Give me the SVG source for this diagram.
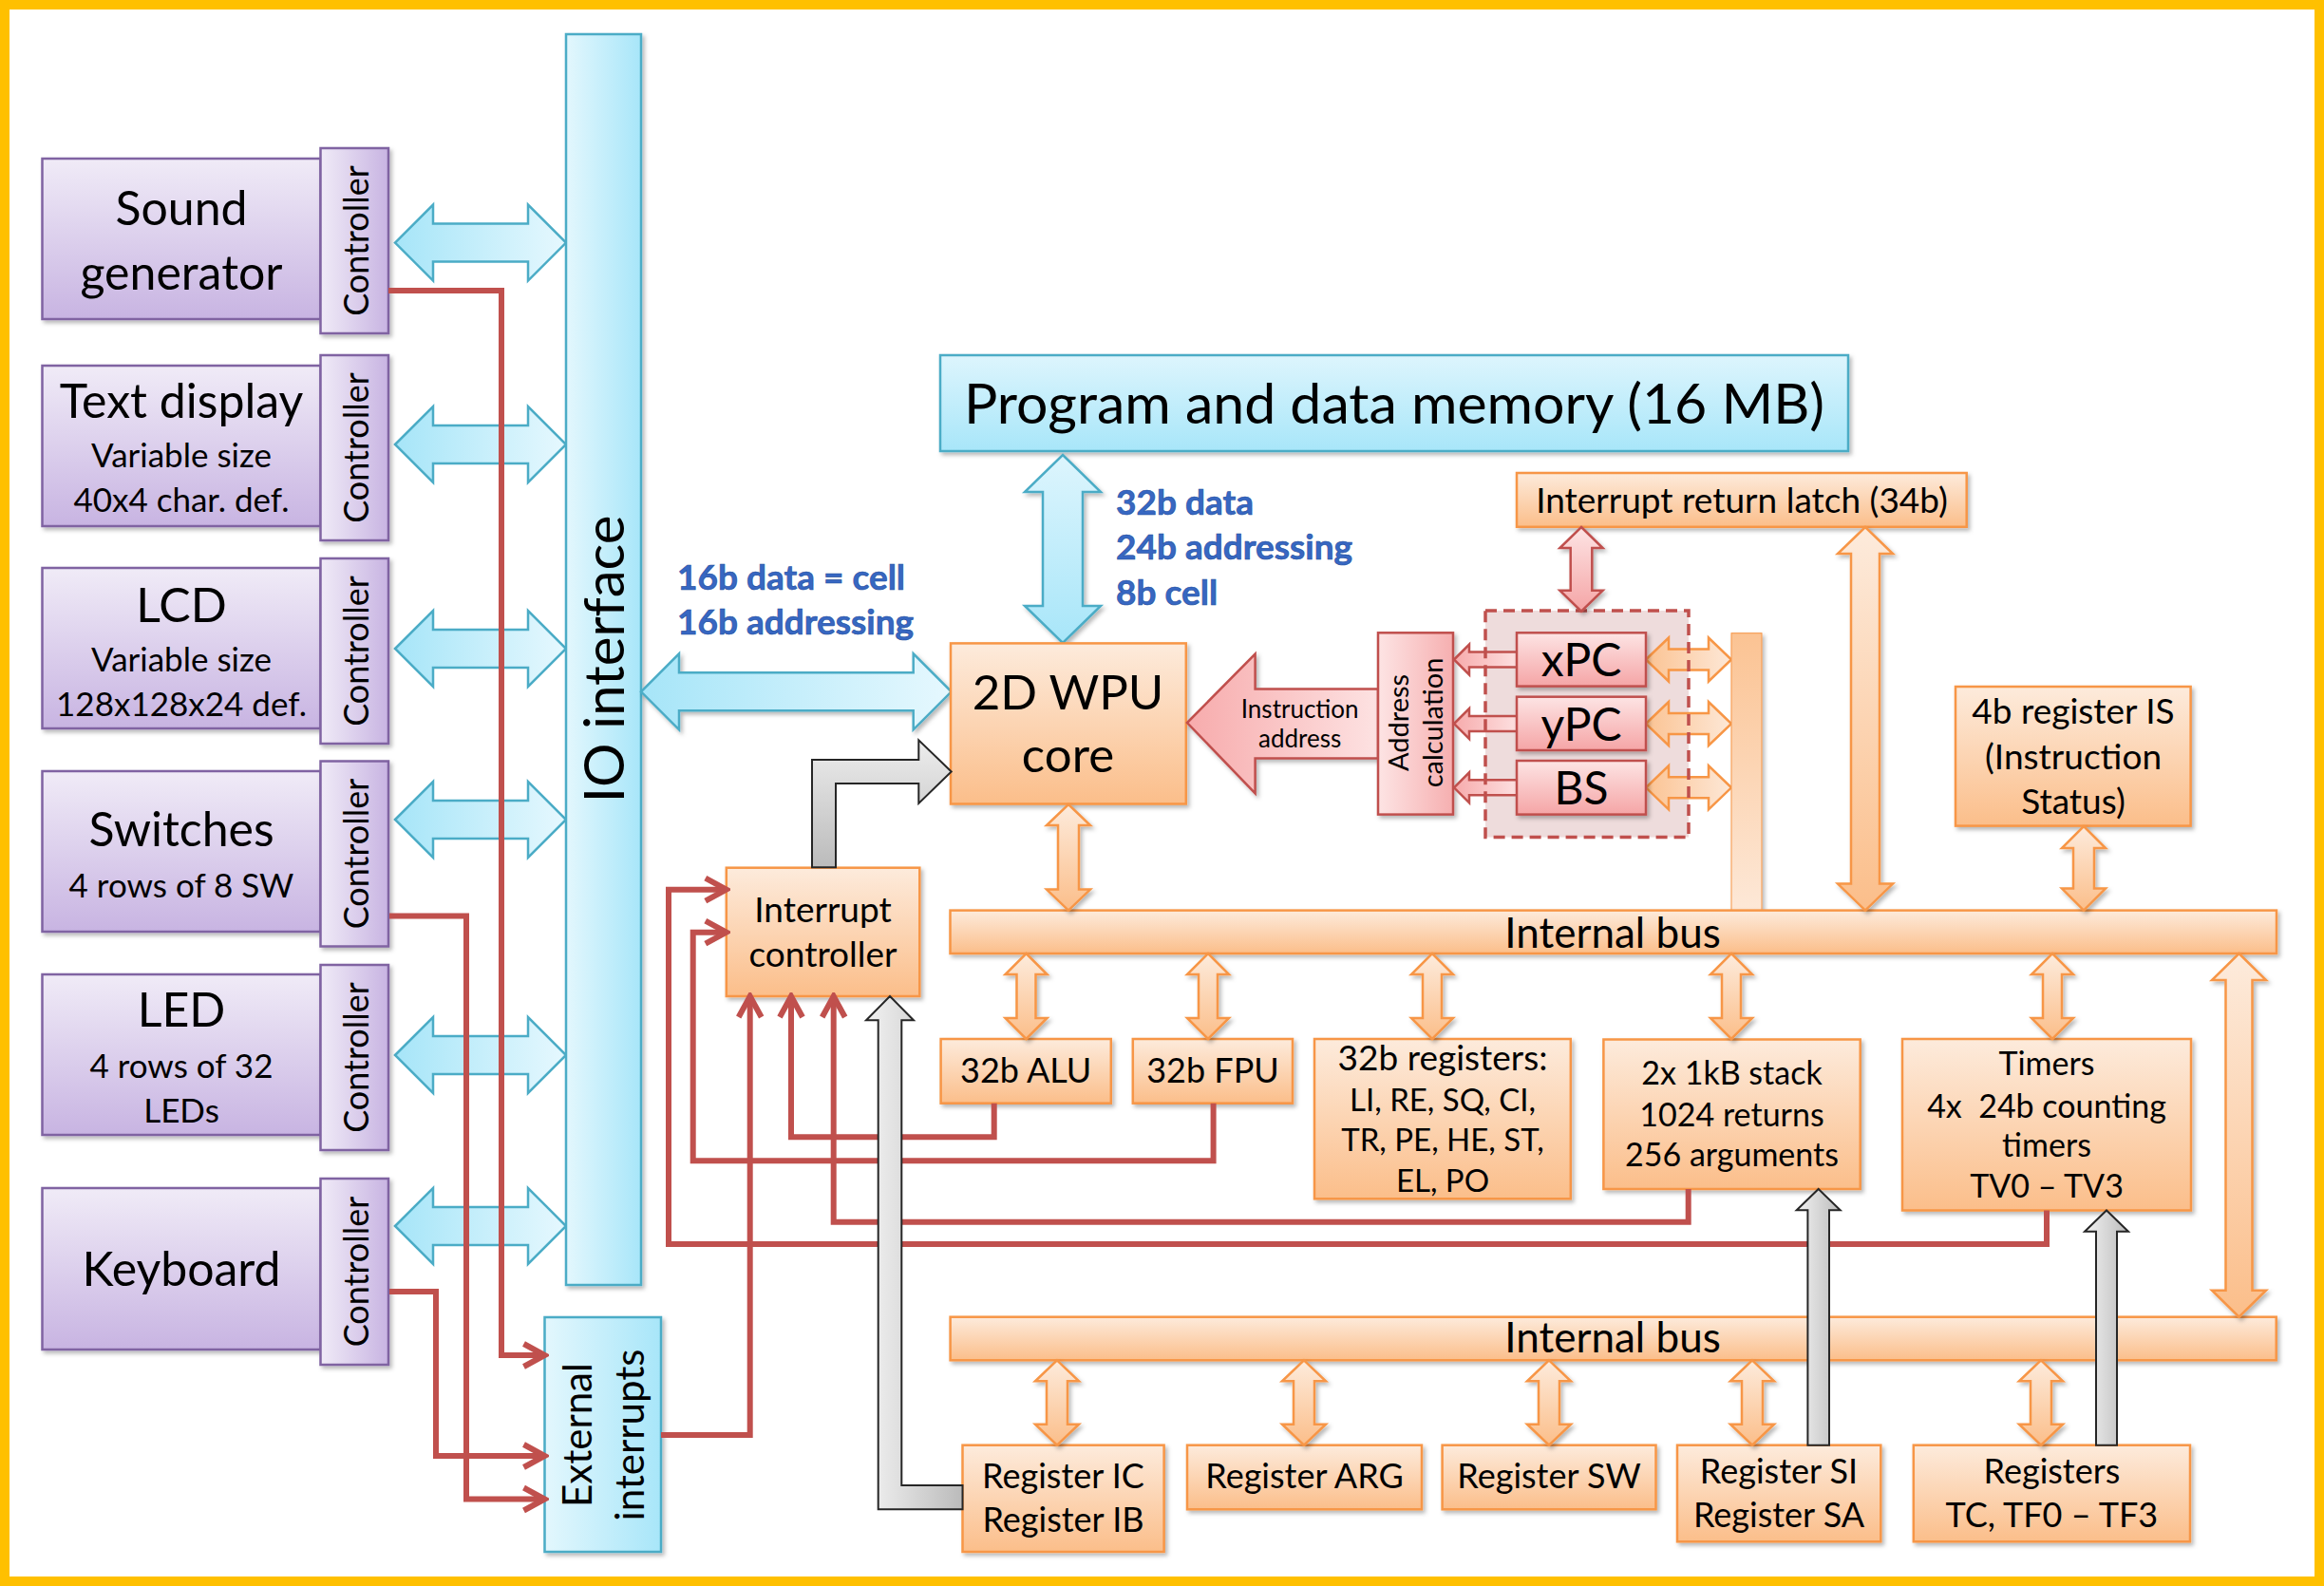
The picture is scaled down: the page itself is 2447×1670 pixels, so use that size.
<svg xmlns="http://www.w3.org/2000/svg" width="2447" height="1670" viewBox="0 0 2447 1670">
<style>
.t{font-family:Lato,"Liberation Sans",sans-serif;fill:#000;text-anchor:middle}
.b{font-family:Lato,"Liberation Sans",sans-serif;font-weight:bold;fill:#3767C2;stroke:#1F4E9C;stroke-width:0.6}
.pur{stroke:#8064A2;stroke-width:2.5}
.org{stroke:#F79646;stroke-width:2.5}
.blu{stroke:#4BACC6;stroke-width:2.5}
.pnk{stroke:#C0504D;stroke-width:2.5}
.gry{stroke:#262626;stroke-width:2}
.red{fill:none;stroke:#C0504D;stroke-width:6;marker-end:url(#ah)}
.sh{filter:url(#sh)}
</style>
<defs>
<filter id="sh" x="-10%" y="-10%" width="130%" height="130%"><feDropShadow dx="2.5" dy="3" stdDeviation="2" flood-color="#000" flood-opacity="0.28"/></filter>
<linearGradient id="gPurV" x1="0" y1="0" x2="0" y2="1"><stop offset="0" stop-color="#F0EBF7"/><stop offset="1" stop-color="#C8B4E2"/></linearGradient>
<linearGradient id="gPurH" x1="0" y1="0" x2="1" y2="0"><stop offset="0" stop-color="#F0EBF7"/><stop offset="1" stop-color="#C8B4E2"/></linearGradient>
<linearGradient id="gOrV" x1="0" y1="0" x2="0" y2="1"><stop offset="0" stop-color="#FDEBDC"/><stop offset="1" stop-color="#FBBE8A"/></linearGradient>
<linearGradient id="gOrVr" x1="0" y1="0" x2="0" y2="1"><stop offset="0" stop-color="#FBC393"/><stop offset="1" stop-color="#FDE8D7"/></linearGradient>
<linearGradient id="gOrH" x1="0" y1="0" x2="1" y2="0"><stop offset="0" stop-color="#FBC393"/><stop offset="1" stop-color="#FDE8D7"/></linearGradient>
<linearGradient id="gBluV" x1="0" y1="0" x2="0" y2="1"><stop offset="0" stop-color="#DDF5FD"/><stop offset="1" stop-color="#A8E6F9"/></linearGradient>
<linearGradient id="gBluH" x1="0" y1="0" x2="1" y2="0"><stop offset="0" stop-color="#A6E5F8"/><stop offset="1" stop-color="#E6F8FE"/></linearGradient>
<linearGradient id="gBluHb" x1="0" y1="0" x2="1" y2="0"><stop offset="0" stop-color="#E3F7FD"/><stop offset="1" stop-color="#A8E6F9"/></linearGradient>
<linearGradient id="gBluVa" x1="0" y1="0" x2="0" y2="1"><stop offset="0" stop-color="#DDF5FD"/><stop offset="1" stop-color="#A8E6F9"/></linearGradient>
<linearGradient id="gPnkV" x1="0" y1="0" x2="0" y2="1"><stop offset="0" stop-color="#FDE4E4"/><stop offset="1" stop-color="#F5A5A6"/></linearGradient>
<linearGradient id="gPnkH" x1="0" y1="0" x2="1" y2="0"><stop offset="0" stop-color="#F7ABAC"/><stop offset="1" stop-color="#FDE2E2"/></linearGradient>
<linearGradient id="gPnkHr" x1="0" y1="0" x2="1" y2="0"><stop offset="0" stop-color="#FDE4E4"/><stop offset="1" stop-color="#F6AFB0"/></linearGradient>
<linearGradient id="gGry" x1="0" y1="0" x2="1" y2="0"><stop offset="0" stop-color="#F2F2F2"/><stop offset="1" stop-color="#BBBBBB"/></linearGradient>
<linearGradient id="gGryV" x1="0" y1="0" x2="0" y2="1"><stop offset="0" stop-color="#EDEDED"/><stop offset="1" stop-color="#BBBBBB"/></linearGradient>
<marker id="ah" markerUnits="userSpaceOnUse" markerWidth="34" markerHeight="34" viewBox="0 0 34 34" refX="30" refY="17" orient="auto"><path d="M8,5 L30,17 L8,29" fill="none" stroke="#C0504D" stroke-width="6"/></marker>
<polygon id="pArr" points="416,0 456,-40 456,-20 556,-20 556,-40 596,0 556,40 556,20 456,20 456,40"/>
<polygon id="vDbl" points="0,0 22,22 10,22 10,68 22,68 0,90 -22,68 -10,68 -10,22 -22,22"/>
<polygon id="vDbl2" points="0,0 23,22 11,22 11,67.4 23,67.4 0,89.4 -23,67.4 -11,67.4 -11,22 -23,22"/>
<polygon id="hDbl" points="0,0 24,-23 24,-11 66,-11 66,-23 90,0 66,23 66,11 24,11 24,23"/>
<polygon id="pLeft" points="0,0 16,-16 16,-8 69,-8 69,8 16,8 16,16"/>
</defs>

<rect x="0" y="0" width="2447" height="1670" fill="#FFFFFF"/>
<rect x="5" y="5" width="2437" height="1660" fill="#FFFFFF" stroke="#FFC000" stroke-width="10"/>

<g id="io-arrows" class="blu" fill="url(#gBluH)">
<use href="#pArr" transform="translate(0,255.6)"/>
<use href="#pArr" transform="translate(0,468)"/>
<use href="#pArr" transform="translate(0,683)"/>
<use href="#pArr" transform="translate(0,863)"/>
<use href="#pArr" transform="translate(0,1111)"/>
<use href="#pArr" transform="translate(0,1291)"/>
</g>

<g id="sound">
<rect class="pur sh" x="44.5" y="167" width="293" height="169" fill="url(#gPurV)"/>
<rect class="pur sh" x="337.5" y="156" width="71.5" height="195" fill="url(#gPurH)"/>
<text class="t" x="191" y="237" font-size="50">Sound</text>
<text class="t" x="191" y="305" font-size="50">generator</text>
<text class="t" font-size="36" transform="translate(388,253.5) rotate(-90)">Controller</text>
</g>
<g id="textdisplay">
<rect class="pur sh" x="44.5" y="385" width="293" height="169" fill="url(#gPurV)"/>
<rect class="pur sh" x="337.5" y="374" width="71.5" height="195" fill="url(#gPurH)"/>
<text class="t" x="191" y="440" font-size="50">Text display</text>
<text class="t" x="191" y="492" font-size="35">Variable size</text>
<text class="t" x="191" y="539" font-size="35">40x4 char. def.</text>
<text class="t" font-size="36" transform="translate(388,471.5) rotate(-90)">Controller</text>
</g>
<g id="lcd">
<rect class="pur sh" x="44.5" y="598" width="293" height="169" fill="url(#gPurV)"/>
<rect class="pur sh" x="337.5" y="588" width="71.5" height="195" fill="url(#gPurH)"/>
<text class="t" x="191" y="655" font-size="50">LCD</text>
<text class="t" x="191" y="707" font-size="35">Variable size</text>
<text class="t" x="191" y="754" font-size="35">128x128x24 def.</text>
<text class="t" font-size="36" transform="translate(388,685.5) rotate(-90)">Controller</text>
</g>
<g id="switches">
<rect class="pur sh" x="44.5" y="812" width="293" height="169" fill="url(#gPurV)"/>
<rect class="pur sh" x="337.5" y="801.5" width="71.5" height="195" fill="url(#gPurH)"/>
<text class="t" x="191" y="891" font-size="50">Switches</text>
<text class="t" x="191" y="945" font-size="35">4 rows of 8 SW</text>
<text class="t" font-size="36" transform="translate(388,899) rotate(-90)">Controller</text>
</g>
<g id="led">
<rect class="pur sh" x="44.5" y="1026" width="293" height="169" fill="url(#gPurV)"/>
<rect class="pur sh" x="337.5" y="1016" width="71.5" height="195" fill="url(#gPurH)"/>
<text class="t" x="191" y="1081" font-size="50">LED</text>
<text class="t" x="191" y="1135" font-size="35">4 rows of 32</text>
<text class="t" x="191" y="1182" font-size="35">LEDs</text>
<text class="t" font-size="36" transform="translate(388,1113.5) rotate(-90)">Controller</text>
</g>
<g id="keyboard">
<rect class="pur sh" x="44.5" y="1251" width="293" height="170" fill="url(#gPurV)"/>
<rect class="pur sh" x="337.5" y="1241" width="71.5" height="196" fill="url(#gPurH)"/>
<text class="t" x="191" y="1354" font-size="50">Keyboard</text>
<text class="t" font-size="36" transform="translate(388,1339) rotate(-90)">Controller</text>
</g>

<g id="io-interface">
<rect class="blu sh" x="596" y="36" width="79" height="1317" fill="url(#gBluHb)"/>
<text class="t" font-size="58" transform="translate(657,694) rotate(-90)">IO interface</text>
</g>

<g id="ext-interrupts">
<rect class="blu sh" x="573.5" y="1387" width="122.5" height="247" fill="url(#gBluHb)"/>
<text class="t" font-size="42" transform="translate(623,1511) rotate(-90)">External</text>
<text class="t" font-size="42" transform="translate(678,1511) rotate(-90)">interrupts</text>
</g>

<g id="memory">
<rect class="blu sh" x="990" y="374" width="956" height="101" fill="url(#gBluV)"/>
<text class="t" x="1468" y="446" font-size="59">Program and data memory (16 MB)</text>
</g>

<g id="bus-labels">
<text class="b" x="713" y="621" font-size="37">16b data = cell</text>
<text class="b" x="713" y="668" font-size="37">16b addressing</text>
<text class="b" x="1175" y="542" font-size="37">32b data</text>
<text class="b" x="1175" y="589" font-size="37">24b addressing</text>
<text class="b" x="1175" y="637" font-size="37">8b cell</text>
</g>

<g id="blue-bus-arrows" class="blu sh">
<polygon fill="url(#gBluH)" points="675,728.3 715,688.3 715,708.3 961.7,708.3 961.7,688.3 1001.7,728.3 961.7,768.3 961.7,748.3 715,748.3 715,768.3"/>
<polygon fill="url(#gBluVa)" points="1119,479 1159,518 1140,518 1140,638 1159,638 1119,677 1079,638 1098,638 1098,518 1079,518"/>
</g>

<g id="core">
<rect class="org sh" x="1001" y="677.4" width="247.8" height="169.1" fill="url(#gOrV)"/>
<text class="t" x="1124.5" y="746.6" font-size="51">2D WPU</text>
<text class="t" x="1124.5" y="813" font-size="51">core</text>
</g>

<g id="instruction-address">
<polygon class="pnk sh" fill="url(#gPnkH)" points="1250,761 1321.6,688.5 1321.6,725.5 1451,725.5 1451,798.4 1321.6,798.4 1321.6,835.4"/>
<text class="t" x="1368.7" y="756" font-size="26">Instruction</text>
<text class="t" x="1368.7" y="787" font-size="26">address</text>
</g>

<g id="address-calculation">
<rect class="pnk sh" x="1451" y="666.3" width="79" height="191.3" fill="url(#gPnkHr)"/>
<text class="t" font-size="29" transform="translate(1483,761) rotate(-90)">Address</text>
<text class="t" font-size="29" transform="translate(1519,761) rotate(-90)">calculation</text>
</g>

<g id="pc-group">
<rect x="1564" y="643" width="214" height="238.6" fill="#EEDCDC"/>
<g class="pnk" fill="url(#gPnkH)">
<use href="#pLeft" transform="translate(1531,694.5)"/>
<use href="#pLeft" transform="translate(1531,762)"/>
<use href="#pLeft" transform="translate(1531,829.3)"/>
</g>
<g class="org" fill="url(#gOrH)">
<use href="#hDbl" transform="translate(1733,694.5)"/>
<use href="#hDbl" transform="translate(1733,762)"/>
<use href="#hDbl" transform="translate(1733,829.3)"/>
</g>
<rect x="1564" y="643" width="214" height="238.6" fill="none" stroke="#C0504D" stroke-width="3.5" stroke-dasharray="12,7"/>
</g>
<g id="xpc">
<rect class="pnk sh" x="1597" y="666.3" width="136" height="56.3" fill="url(#gPnkV)"/>
<text class="t" x="1665" y="711.5" font-size="48">xPC</text>
</g>
<g id="ypc">
<rect class="pnk sh" x="1597" y="733.7" width="136" height="56.3" fill="url(#gPnkV)"/>
<text class="t" x="1665" y="780" font-size="48">yPC</text>
</g>
<g id="bs">
<rect class="pnk sh" x="1597" y="801" width="136" height="56.6" fill="url(#gPnkV)"/>
<text class="t" x="1665" y="846.5" font-size="48">BS</text>
</g>

<g id="latch">
<rect class="org sh" x="1597" y="498" width="473.7" height="56.8" fill="url(#gOrV)"/>
<text class="t" x="1834" y="540" font-size="37">Interrupt return latch (34b)</text>
</g>
<polygon id="latch-pc-arrow" class="pnk sh" fill="url(#gPnkV)" points="1665,555 1687.6,577 1676.3,577 1676.3,621.7 1687.6,621.7 1665,643.7 1642.4,621.7 1653.7,621.7 1653.7,577 1642.4,577"/>

<g id="pc-bar">
<rect class="sh" x="1823" y="666.7" width="32" height="292" fill="url(#gOrVr)" stroke="#F79646" stroke-width="1"/>
</g>

<g id="is-register">
<rect class="org sh" x="2059" y="723" width="247.6" height="146.6" fill="url(#gOrV)"/>
<text class="t" x="2183" y="762.4" font-size="37">4b register IS</text>
<text class="t" x="2183" y="809.5" font-size="37">(Instruction</text>
<text class="t" x="2183" y="856.6" font-size="37">Status)</text>
</g>

<g id="internal-bus-1">
<rect class="org sh" x="1000.5" y="958.6" width="1396.5" height="45.4" fill="url(#gOrV)"/>
<text class="t" x="1698" y="997.8" font-size="44">Internal bus</text>
</g>

<g id="interrupt-controller">
<rect class="org sh" x="764.8" y="913.7" width="203.5" height="135.3" fill="url(#gOrV)"/>
<text class="t" x="866.5" y="970.7" font-size="37">Interrupt</text>
<text class="t" x="866.5" y="1018" font-size="37">controller</text>
</g>

<g id="alu">
<rect class="org sh" x="990.6" y="1094" width="179.2" height="67.7" fill="url(#gOrV)"/>
<text class="t" x="1080.2" y="1140" font-size="36">32b ALU</text>
</g>
<g id="fpu">
<rect class="org sh" x="1192.8" y="1094" width="168.2" height="67.7" fill="url(#gOrV)"/>
<text class="t" x="1277" y="1140" font-size="36">32b FPU</text>
</g>
<g id="registers32">
<rect class="org sh" x="1384" y="1094" width="269.8" height="168.3" fill="url(#gOrV)"/>
<text class="t" x="1519" y="1126.7" font-size="37">32b registers:</text>
<text class="t" x="1519" y="1170" font-size="33">LI, RE, SQ, CI,</text>
<text class="t" x="1519" y="1211.7" font-size="33">TR, PE, HE, ST,</text>
<text class="t" x="1519" y="1255" font-size="33">EL, PO</text>
</g>
<g id="stack">
<rect class="org sh" x="1688.4" y="1094.5" width="270.3" height="157.5" fill="url(#gOrV)"/>
<text class="t" x="1823.5" y="1141.6" font-size="34">2x 1kB stack</text>
<text class="t" x="1823.5" y="1186" font-size="34">1024 returns</text>
<text class="t" x="1823.5" y="1227.5" font-size="34">256 arguments</text>
</g>
<g id="timers">
<rect class="org sh" x="2003" y="1094" width="304" height="180.5" fill="url(#gOrV)"/>
<text class="t" x="2155" y="1131.7" font-size="34">Timers</text>
<text class="t" x="2155" y="1176.7" font-size="34" xml:space="preserve" style="white-space:pre">4x  24b counting</text>
<text class="t" x="2155" y="1218" font-size="34">timers</text>
<text class="t" x="2155" y="1260.7" font-size="34">TV0 – TV3</text>
</g>

<g id="internal-bus-2">
<rect class="org sh" x="1000.6" y="1386.7" width="1396.1" height="45.6" fill="url(#gOrV)"/>
<text class="t" x="1698" y="1424" font-size="44">Internal bus</text>
</g>

<g id="reg-ic">
<rect class="org sh" x="1013.5" y="1521.7" width="212.1" height="112.3" fill="url(#gOrV)"/>
<text class="t" x="1119.5" y="1566.7" font-size="36">Register IC</text>
<text class="t" x="1119.5" y="1613.3" font-size="36">Register IB</text>
</g>
<g id="reg-arg">
<rect class="org sh" x="1250" y="1521.7" width="247" height="67.6" fill="url(#gOrV)"/>
<text class="t" x="1373.5" y="1567" font-size="36">Register ARG</text>
</g>
<g id="reg-sw">
<rect class="org sh" x="1518.6" y="1521.7" width="224.9" height="67.6" fill="url(#gOrV)"/>
<text class="t" x="1631" y="1567" font-size="36">Register SW</text>
</g>
<g id="reg-si">
<rect class="org sh" x="1766" y="1521.7" width="214.3" height="101.6" fill="url(#gOrV)"/>
<text class="t" x="1873" y="1561.7" font-size="36">Register SI</text>
<text class="t" x="1873" y="1608.3" font-size="36">Register SA</text>
</g>
<g id="reg-tc">
<rect class="org sh" x="2014.8" y="1521.7" width="291.2" height="101.6" fill="url(#gOrV)"/>
<text class="t" x="2160.4" y="1561.7" font-size="36">Registers</text>
<text class="t" x="2160.4" y="1608.3" font-size="36">TC, TF0 – TF3</text>
</g>

<g id="connectors">
<g id="orange-arrows" class="org sh" fill="url(#gOrV)">
<polygon points="1125,847 1148,869 1136,869 1136,936.6 1148,936.6 1125,958.6 1102,936.6 1114,936.6 1114,869 1102,869"/>
<polygon points="1964,555 1993,583 1979,583 1979,930.6 1993,930.6 1964,958.6 1935,930.6 1949,930.6 1949,583 1935,583"/>
<polygon points="2194,870 2217,893 2205,893 2205,935.6 2217,935.6 2194,958.6 2171,935.6 2183,935.6 2183,893 2171,893"/>
<use href="#vDbl" transform="translate(1080.5,1004)"/>
<use href="#vDbl" transform="translate(1272,1004)"/>
<use href="#vDbl" transform="translate(1508,1004)"/>
<use href="#vDbl" transform="translate(1823,1004)"/>
<use href="#vDbl" transform="translate(2161,1004)"/>
<polygon points="2357.5,1004 2386,1032 2371.5,1032 2371.5,1358.7 2386,1358.7 2357.5,1386.7 2329,1358.7 2343.5,1358.7 2343.5,1032 2329,1032"/>
<use href="#vDbl2" transform="translate(1113,1432.3)"/>
<use href="#vDbl2" transform="translate(1373,1432.3)"/>
<use href="#vDbl2" transform="translate(1631,1432.3)"/>
<use href="#vDbl2" transform="translate(1845,1432.3)"/>
<use href="#vDbl2" transform="translate(2149,1432.3)"/>
</g>
<g id="interrupt-lines">
<path class="red" d="M409,306 H528 V1427 H573.5"/>
<path class="red" d="M410,964.5 H491 V1578.5 H573.5"/>
<path class="red" d="M410,1360 H459 V1533 H573.5"/>
<path class="red" d="M696,1511 H789.7 V1049"/>
<path class="red" d="M1046.7,1161.7 V1197.3 H833 V1049"/>
<path class="red" d="M1277.6,1161.7 V1222.3 H729.7 V981.7 H764.8"/>
<path class="red" d="M1777.7,1252 V1286.7 H877.7 V1049"/>
<path class="red" d="M2155,1274.5 V1310 H704 V936.7 H764.8"/>
</g>
<g id="grey-arrows" class="gry">
<polygon fill="url(#gGryV)" points="855,913.3 855,800 967.3,800 967.3,779.3 1001.7,812.5 967.3,846 967.3,825 880,825 880,913.3"/>
<polygon fill="url(#gGry)" points="1013.5,1564 949.3,1564 949.3,1074.3 962,1074.3 937,1049 912,1074.3 924.7,1074.3 924.7,1589.3 1013.5,1589.3"/>
<polygon fill="url(#gGry)" points="1926,1521.7 1926,1274.3 1937.7,1274.3 1914.7,1252 1891.7,1274.3 1903.4,1274.3 1903.4,1521.7"/>
<polygon fill="url(#gGry)" points="2229,1521.7 2229,1296.7 2241,1296.7 2218,1274.5 2195,1296.7 2207,1296.7 2207,1521.7"/>
</g>
</g>
</svg>
